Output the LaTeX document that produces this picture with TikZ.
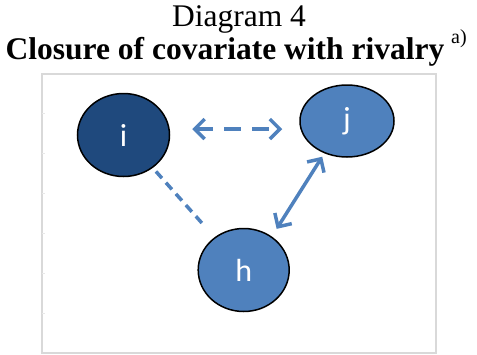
\documentclass[tikz,border=0pt]{standalone}
\usepackage{fontspec}
\setmainfont{Liberation Serif}
\newfontfamily\nodefont{Carlito}
\usetikzlibrary{arrows.meta, shapes.geometric, calc}
\definecolor{darkblue}{RGB}{31,73,125}
\definecolor{midblue}{RGB}{79,129,189}
\definecolor{framegray}{RGB}{217,217,217}
\tikzset{
	actor/.style={ellipse, draw=black, line width=1.5pt, fill=midblue, text=white,
		font=\nodefont\fontsize{32}{32}\selectfont, inner sep=0pt},
	link/.style={draw=midblue, line width=3.5pt},
	barb/.tip={Straight Barb[length=10pt, width=20pt, line width=3.5pt]}
}

\begin{document}
\begin{tikzpicture}[x=1pt, y=-1pt]
			
			\useasboundingbox (0,0) rectangle (477,354);
			
			\node[anchor=base, inner sep=0pt] (ttl) at (239,26) {\fontsize{31.5}{32}\selectfont Diagram 4};
			\node[anchor=base, inner sep=0pt] (sub) at (225,59) {\fontsize{31.5}{32}\selectfont\bfseries Closure of covariate with rivalry};
			\node[anchor=base west, inner sep=0pt] (note) at (451,43) {\fontsize{20}{20}\selectfont a)};
			
			\draw[framegray, line width=2pt] (42,74) -- (42,353) -- (436,353) -- (436,74) -- cycle;
			\foreach \y in {113,153,193,233,273,313}
				\draw[framegray!60, line width=1pt] (42,\y) -- (45,\y);
			
			\node[actor, fill=darkblue, minimum width=92pt, minimum height=83pt] (i) at (123.5,135) {i};
			\node[actor, minimum width=94pt, minimum height=72pt] (j) at (347,121) {j};
			\node[actor, minimum width=91pt, minimum height=83pt] (h) at (243.7,270) {h};
			
			\draw[link, barb-barb, dash pattern=on 17pt off 11pt] ([xshift=22pt]i.east |- 0,129) -- ([xshift=-17pt]j.west |- 0,129);
			\draw[link, dash pattern=on 9pt off 6pt] ($(i)!0.27!(h)$) -- ($(i)!0.66!(h)$);
			\draw[link, barb-barb, shorten <=4pt, shorten >=9pt] (j.-125) -- (h.50.5);
			
\end{tikzpicture}
\end{document}
